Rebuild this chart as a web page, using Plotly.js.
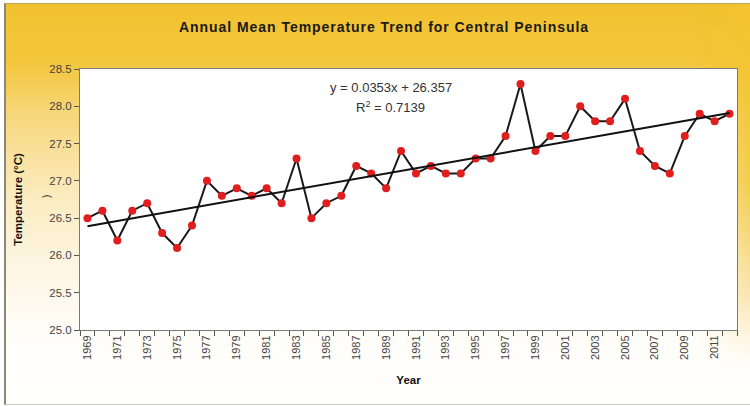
<!DOCTYPE html>
<html>
<head>
<meta charset="utf-8">
<script src="https://cdn.plot.ly/plotly-3.0.1.min.js"></script>
<style>
  html, body { margin: 0; padding: 0; background: #ffffff; width: 750px; height: 406px; overflow: hidden; }
  #frame {
    position: absolute; left: 4px; top: 3px; width: 760px; height: 400px;
    border-left: 2px solid #8c8878; border-top: 1px solid #b9a860; border-bottom: 1px solid #c8c8c0;
    background:
      linear-gradient(to bottom, #f2c22f 0%, #f3c53a 14%, #f7d87c 28%, #fbebbf 48%, #fdf6e4 66%, #fffdf8 82%, #ffffff 100%);
    overflow: hidden;
  }
  #rightglow {
    position: absolute; left: 690px; top: 0; width: 70px; height: 400px;
    background: linear-gradient(to bottom, rgba(243,196,48,0.9) 0%, rgba(243,196,48,0.8) 45%, rgba(245,205,90,0.45) 72%, rgba(255,255,255,0) 90%);
    -webkit-mask-image: linear-gradient(to right, transparent 0%, black 80%);
    mask-image: linear-gradient(to right, transparent 0%, black 80%);
  }
  #chart { position: absolute; left: 0; top: 0; width: 750px; height: 406px; }
</style>
</head>
<body>
<div id="frame"><div id="rightglow"></div></div>
<div id="chart"></div>
<script>
// ---- data ----
const years = [1969,1970,1971,1972,1973,1974,1975,1976,1977,1978,1979,1980,1981,1982,1983,1984,1985,1986,1987,1988,1989,1990,
               1991,1992,1993,1994,1995,1996,1997,1998,1999,2000,2001,2002,2003,2004,2005,2006,2007,2008,2009,2010,2011,2012];
const temperature = [26.5,26.6,26.2,26.6,26.7,26.3,26.1,26.4,27.0,26.8,26.9,26.8,26.9,26.7,27.3,26.5,26.7,26.8,27.2,27.1,26.9,27.4,
                     27.1,27.2,27.1,27.1,27.3,27.3,27.6,28.3,27.4,27.6,27.6,28.0,27.8,27.8,28.1,27.4,27.2,27.1,27.6,27.9,27.8,27.9];
const xTickYears = [1969,1971,1973,1975,1977,1979,1981,1983,1985,1987,1989,1991,1993,1995,1997,1999,2001,2003,2005,2007,2009,2011];
const yTickValues = [25.0,25.5,26.0,26.5,27.0,27.5,28.0,28.5];
// trend line as printed on the chart: y = slope * n + intercept, n = 1..N
const trendSlope = 0.0353;
const trendIntercept = 26.357;
const titleText = "Annual Mean Temperature Trend for Central Peninsula";
const equationText = "y = 0.0353x + 26.357";
const r2Text = "R<sup>2</sup> = 0.7139";

const trendX = [years[0], years[years.length - 1]];
const trendY = [trendSlope * 1 + trendIntercept, trendSlope * years.length + trendIntercept];
const boundaryTicks = years.map(y => y - 0.5).concat([years[years.length - 1] + 0.5]);
const xRange = [years[0] - 0.5, years[years.length - 1] + 0.5];

const FONT = "Liberation Sans, Arial, sans-serif";

const traces = [
  {
    x: years, y: temperature, type: "scatter", mode: "lines+markers",
    line: { color: "#1a1a1a", width: 2 },
    marker: { color: "#e01e1e", size: 8, line: { width: 0 } },
    hoverinfo: "x+y", showlegend: false
  },
  {
    x: trendX, y: trendY, type: "scatter", mode: "lines",
    line: { color: "#111111", width: 2 },
    hoverinfo: "skip", showlegend: false
  },
  {
    x: trendX, y: trendY, type: "scatter", mode: "lines", xaxis: "x2",
    line: { width: 0 }, opacity: 0, hoverinfo: "skip", showlegend: false
  }
];

const layout = {
  width: 750, height: 406,
  paper_bgcolor: "rgba(0,0,0,0)",
  plot_bgcolor: "#ffffff",
  margin: { l: 80, r: 13, t: 69, b: 76 },
  font: { family: FONT, color: "#333333", size: 11 },
  title: {
    text: "<b>" + titleText + "</b>",
    font: { family: FONT, size: 14, color: "#1a1a1a" },
    x: 0.512, xanchor: "center", y: 0.933, yanchor: "middle"
  },
  xaxis: {
    range: xRange, tickmode: "array", tickvals: xTickYears, ticktext: xTickYears.map(String),
    tickangle: -90, ticks: "", showgrid: false, zeroline: false,
    showline: true, linecolor: "#7a7a7a", linewidth: 1, mirror: true,
    tickfont: { family: FONT, size: 11, color: "#444444" },
    title: { text: "<b>Year</b>", font: { family: FONT, size: 11.5, color: "#111111" }, standoff: 17 }
  },
  xaxis2: {
    range: xRange, overlaying: "x", anchor: "y", side: "bottom",
    tickmode: "array", tickvals: boundaryTicks, showticklabels: false,
    ticks: "outside", ticklen: 5, tickwidth: 1, tickcolor: "#555555",
    showgrid: false, zeroline: false, showline: false
  },
  yaxis: {
    range: [25.0, 28.5], tickmode: "array", tickvals: yTickValues,
    ticktext: yTickValues.map(v => v.toFixed(1)),
    ticks: "outside", ticklen: 5, tickwidth: 1, tickcolor: "#555555",
    showgrid: false, zeroline: false,
    showline: true, linecolor: "#7a7a7a", linewidth: 1, mirror: true,
    tickfont: { family: FONT, size: 11.5, color: "#444444" },
    title: { text: "<b>Temperature (°C)</b>", font: { family: FONT, size: 11.5, color: "#111111" }, standoff: 24 }
  },
  annotations: [
    { text: equationText, xref: "paper", yref: "paper", x: 0.474, y: 0.931, showarrow: false,
      font: { family: FONT, size: 13, color: "#333333" }, xanchor: "center", yanchor: "middle" },
    { text: r2Text, xref: "paper", yref: "paper", x: 0.473, y: 0.855, showarrow: false,
      font: { family: FONT, size: 13, color: "#333333" }, xanchor: "center", yanchor: "middle" },
    { text: ")", xref: "paper", yref: "paper", x: -0.05, y: 0.51, showarrow: false, textangle: -90,
      font: { family: FONT, size: 10, color: "#222222" }, xanchor: "center", yanchor: "middle" }
  ]
};

Plotly.newPlot("chart", traces, layout, { displayModeBar: false, staticPlot: true }).then(gd => {
  const t = gd.querySelector(".gtitle");
  if (t) t.style.letterSpacing = "0.95px";
});
</script>
</body>
</html>
